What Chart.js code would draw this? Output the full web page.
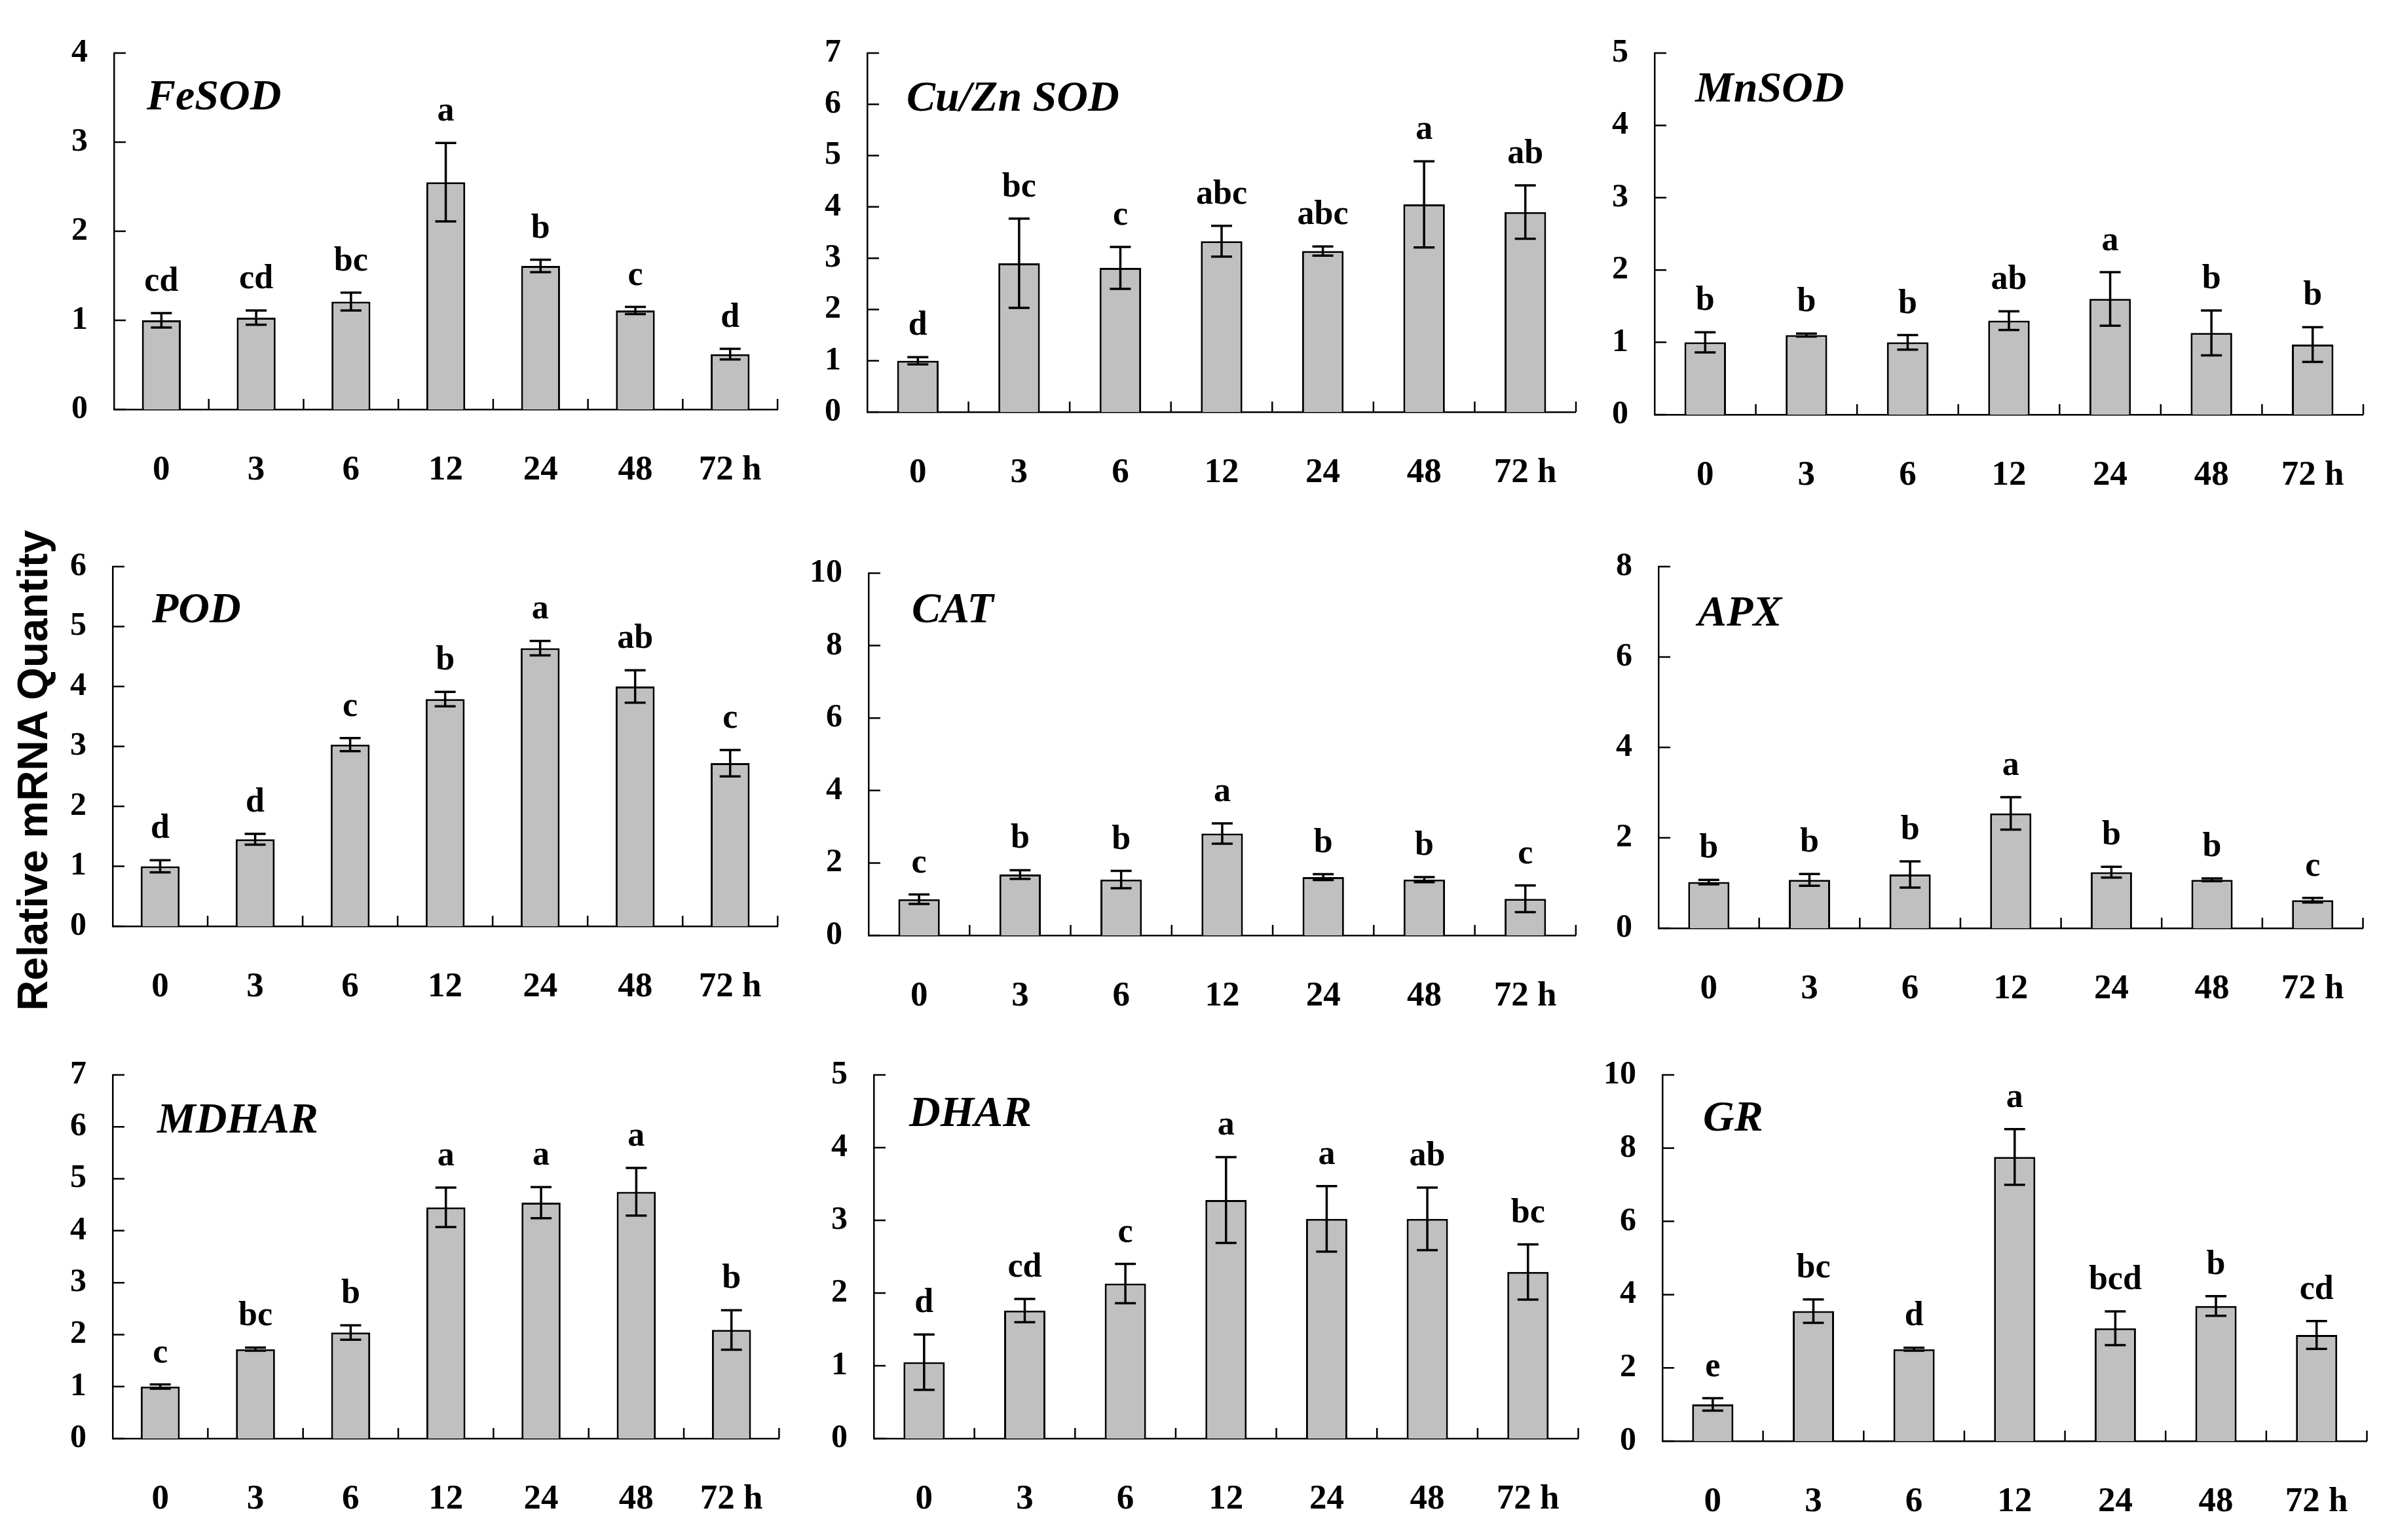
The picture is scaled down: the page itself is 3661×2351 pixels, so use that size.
<!DOCTYPE html>
<html>
<head>
<meta charset="utf-8">
<title>Relative mRNA quantity</title>
<script src="https://cdn.jsdelivr.net/npm/chart.js@4.4.1/dist/chart.umd.min.js"></script>
<style>
  html, body { margin: 0; padding: 0; background: #fff; }
  #page { position: relative; width: 3661px; height: 2351px; overflow: hidden; background: #fff; }
  canvas { position: absolute; }
  #ytitle {
    position: absolute; left: 50px; top: 1176px;
    transform: translate(-50%, -50%) rotate(-90deg);
    font: bold 64px "Liberation Sans", Arial, sans-serif;
    white-space: nowrap; color: #000;
  }
</style>
</head>
<body>
<div id="page">
  <div id="ytitle">Relative mRNA Quantity</div>
</div>
<script>
// time points (h)
var timeLabels = ['0', '3', '6', '12', '24', '48', '72 h'];

// values: mean, error, significance letters
var fesodMean = [1.0, 1.03, 1.21, 2.55, 1.61, 1.11, 0.62];
var fesodErr  = [0.08, 0.08, 0.1, 0.44, 0.07, 0.04, 0.06];
var fesodSig  = ['cd', 'cd', 'bc', 'a', 'b', 'c', 'd'];

var cuznMean = [1.0, 2.9, 2.81, 3.33, 3.14, 4.05, 3.9];
var cuznErr  = [0.07, 0.87, 0.41, 0.3, 0.09, 0.84, 0.52];
var cuznSig  = ['d', 'bc', 'c', 'abc', 'abc', 'a', 'ab'];

var mnsodMean = [1.0, 1.1, 1.0, 1.3, 1.6, 1.13, 0.97];
var mnsodErr  = [0.14, 0.02, 0.1, 0.13, 0.37, 0.31, 0.24];
var mnsodSig  = ['b', 'b', 'b', 'ab', 'a', 'b', 'b'];

var podMean = [1.0, 1.45, 3.03, 3.79, 4.64, 4.0, 2.72];
var podErr  = [0.1, 0.09, 0.11, 0.12, 0.12, 0.27, 0.22];
var podSig  = ['d', 'd', 'c', 'b', 'a', 'ab', 'c'];

var catMean = [1.0, 1.68, 1.54, 2.81, 1.61, 1.54, 1.01];
var catErr  = [0.13, 0.12, 0.24, 0.28, 0.08, 0.07, 0.37];
var catSig  = ['c', 'b', 'b', 'a', 'b', 'b', 'c'];

var apxMean = [1.02, 1.07, 1.19, 2.54, 1.24, 1.07, 0.62];
var apxErr  = [0.05, 0.13, 0.29, 0.36, 0.12, 0.03, 0.05];
var apxSig  = ['b', 'b', 'b', 'a', 'b', 'b', 'c'];

var mdharMean = [1.0, 1.72, 2.04, 4.45, 4.54, 4.75, 2.09];
var mdharErr  = [0.04, 0.03, 0.14, 0.38, 0.3, 0.46, 0.38];
var mdharSig  = ['c', 'bc', 'b', 'a', 'a', 'a', 'b'];

var dharMean = [1.05, 1.76, 2.13, 3.28, 3.02, 3.02, 2.29];
var dharErr  = [0.38, 0.16, 0.27, 0.59, 0.45, 0.43, 0.38];
var dharSig  = ['d', 'cd', 'c', 'a', 'a', 'ab', 'bc'];

var grMean = [1.0, 3.55, 2.51, 7.76, 3.08, 3.69, 2.9];
var grErr  = [0.17, 0.32, 0.04, 0.76, 0.46, 0.27, 0.38];
var grSig  = ['e', 'bc', 'd', 'a', 'bcd', 'b', 'cd'];

// panel layout: axis box in page pixels, y range, gene label offset
var panels = [
  { gene: 'FeSOD',     mean: fesodMean, err: fesodErr, sig: fesodSig, ymax: 4,  step: 1, x0: 174,  x1: 1206, y0: 71,   y1: 625,  tx: 50, ty: 69 },
  { gene: 'Cu/Zn SOD', mean: cuznMean,  err: cuznErr,  sig: cuznSig,  ymax: 7,  step: 1, x0: 1324, x1: 2420, y0: 71,   y1: 629,  tx: 60, ty: 71 },
  { gene: 'MnSOD',     mean: mnsodMean, err: mnsodErr, sig: mnsodSig, ymax: 5,  step: 1, x0: 2526, x1: 3622, y0: 71,   y1: 633,  tx: 62, ty: 57 },
  { gene: 'POD',       mean: podMean,   err: podErr,   sig: podSig,   ymax: 6,  step: 1, x0: 172,  x1: 1206, y0: 855,  y1: 1414, tx: 60, ty: 68 },
  { gene: 'CAT',       mean: catMean,   err: catErr,   sig: catSig,   ymax: 10, step: 2, x0: 1326, x1: 2420, y0: 865,  y1: 1428, tx: 66, ty: 58 },
  { gene: 'APX',       mean: apxMean,   err: apxErr,   sig: apxSig,   ymax: 8,  step: 2, x0: 2532, x1: 3622, y0: 855,  y1: 1417, tx: 60, ty: 73 },
  { gene: 'MDHAR',     mean: mdharMean, err: mdharErr, sig: mdharSig, ymax: 7,  step: 1, x0: 172,  x1: 1208, y0: 1631, y1: 2196, tx: 68, ty: 71 },
  { gene: 'DHAR',      mean: dharMean,  err: dharErr,  sig: dharSig,  ymax: 5,  step: 1, x0: 1334, x1: 2424, y0: 1631, y1: 2196, tx: 54, ty: 61 },
  { gene: 'GR',        mean: grMean,    err: grErr,    sig: grSig,    ymax: 10, step: 2, x0: 2538, x1: 3628, y0: 1631, y1: 2200, tx: 62, ty: 68 }
];

var SERIF = '"Liberation Serif", "Times New Roman", serif';
var YW = 120, XH = 130, PT = 60, PR = 20;

// inward tick marks, error bars, letters and gene name
var panelDecor = {
  id: 'panelDecor',
  afterDatasetsDraw: function (chart) {
    var p = chart.options.plugins.panelDecor;
    var ctx = chart.ctx;
    var xs = chart.scales.x, ys = chart.scales.y;
    var area = chart.chartArea;
    var meta = chart.getDatasetMeta(0);
    ctx.save();
    ctx.strokeStyle = '#000';
    ctx.lineWidth = 2.5;
    ctx.beginPath();
    ys.ticks.forEach(function (t) {
      var y = ys.getPixelForValue(t.value);
      ctx.moveTo(area.left, y);
      ctx.lineTo(area.left + 18, y);
    });
    for (var k = 1; k <= timeLabels.length; k++) {
      var bx = xs.getPixelForValue(k - 0.5);
      ctx.moveTo(bx, area.bottom);
      ctx.lineTo(bx, area.bottom - 16);
    }
    ctx.stroke();

    ctx.lineWidth = 3.5;
    ctx.font = 'bold 52px ' + SERIF;
    ctx.fillStyle = '#000';
    ctx.textAlign = 'center';
    ctx.textBaseline = 'alphabetic';
    p.mean.forEach(function (m, i) {
      var x = meta.data[i].x;
      var yt = ys.getPixelForValue(m + p.err[i]);
      var yb = ys.getPixelForValue(m - p.err[i]);
      ctx.beginPath();
      ctx.moveTo(x, yt); ctx.lineTo(x, yb);
      ctx.moveTo(x - 16, yt); ctx.lineTo(x + 16, yt);
      ctx.moveTo(x - 16, yb); ctx.lineTo(x + 16, yb);
      ctx.stroke();
      ctx.fillText(p.sig[i], x, yt - 34);
    });

    ctx.font = 'italic bold 66px ' + SERIF;
    ctx.textAlign = 'left';
    ctx.textBaseline = 'middle';
    ctx.fillText(p.gene, area.left + p.tx, area.top + p.ty);
    ctx.restore();
  }
};

var page = document.getElementById('page');

panels.forEach(function (p) {
  var c = document.createElement('canvas');
  var w = p.x1 - p.x0 + YW + PR;
  var h = p.y1 - p.y0 + PT + XH;
  c.width = w; c.height = h;
  c.style.left = (p.x0 - YW) + 'px';
  c.style.top = (p.y0 - PT) + 'px';
  c.style.width = w + 'px';
  c.style.height = h + 'px';
  page.appendChild(c);

  new Chart(c, {
    type: 'bar',
    data: {
      labels: timeLabels,
      datasets: [{
        data: p.mean,
        backgroundColor: '#c0c0c0',
        borderColor: '#000',
        borderWidth: 3,
        barPercentage: 0.41,
        categoryPercentage: 1
      }]
    },
    options: {
      responsive: false,
      animation: false,
      devicePixelRatio: 1,
      layout: { padding: { left: 0, top: PT, right: PR, bottom: 0 } },
      plugins: {
        legend: { display: false },
        tooltip: { enabled: false },
        panelDecor: p
      },
      scales: {
        x: {
          grid: { display: false, drawTicks: false },
          border: { display: true, color: '#000', width: 2.5 },
          ticks: {
            color: '#000',
            font: { family: SERIF, weight: 'bold', size: 53 },
            padding: 62,
            maxRotation: 0,
            autoSkip: false
          },
          afterFit: function (s) { s.height = XH; }
        },
        y: {
          min: 0,
          max: p.ymax,
          grid: { display: false, drawTicks: false },
          border: { display: true, color: '#000', width: 2.5 },
          ticks: {
            stepSize: p.step,
            color: '#000',
            font: { family: SERIF, weight: 'bold', size: 50 },
            padding: 40
          },
          afterFit: function (s) { s.width = YW; }
        }
      }
    },
    plugins: [panelDecor]
  });
});
</script>
</body>
</html>
